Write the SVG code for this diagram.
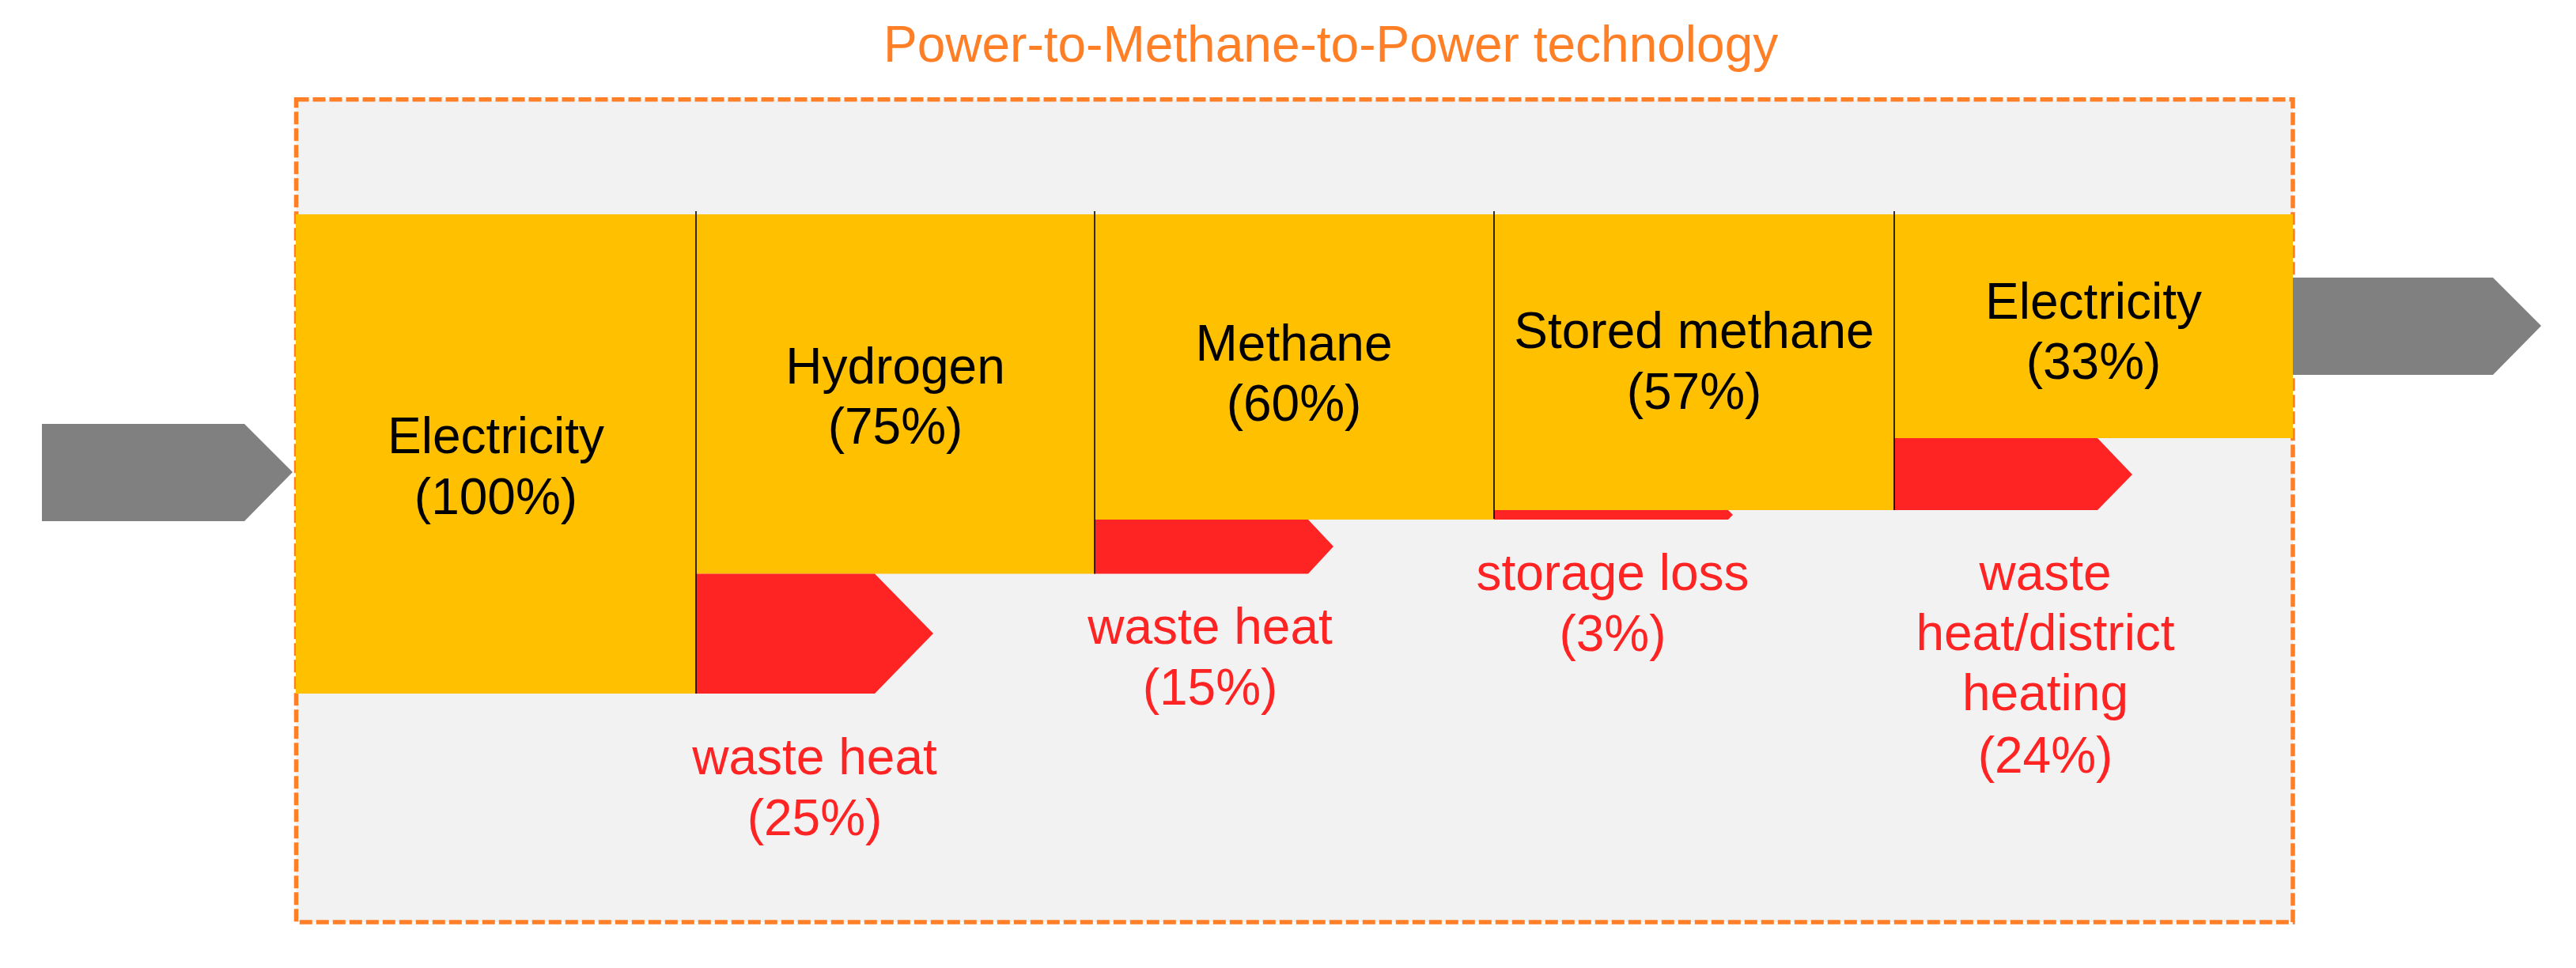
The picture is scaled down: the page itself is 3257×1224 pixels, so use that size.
<svg xmlns="http://www.w3.org/2000/svg" width="3257" height="1224" viewBox="0 0 3257 1224">
<style>
.t{font-family:"Liberation Sans",Arial,sans-serif;font-size:64px;text-anchor:middle}
.blk{fill:#000000}
.red{fill:#FF2424}
.stage{fill:#FFC000}
.loss{fill:#FF2424}
.io{fill:#808080}
.div{stroke:#000000;stroke-width:1.6;fill:none}
</style>
<rect width="3257" height="1224" fill="#FFFFFF"/>
<g id="frame">
<rect x="374.5" y="125.7" width="2524.5" height="1040.3" fill="#F2F2F2" stroke="#FF7F27" stroke-width="5.5" stroke-dasharray="16 5"/>
<text x="1117" y="78" style="font-family:'Liberation Sans',Arial,sans-serif;font-size:64px;fill:#FF7F27">Power-to-Methane-to-Power technology</text>
</g>
<g id="input">
<polygon class="io" points="53,536 309,536 370,597 309,659 53,659"/>
</g>
<g id="output">
<polygon class="io" points="2899,351 3152,351 3213,412 3152,474 2899,474"/>
</g>
<g id="electricity-in">
<rect class="stage" x="374" y="271" width="506" height="606"/>
<text class="t blk" x="627" y="573">Electricity</text>
<text class="t blk" x="627" y="650">(100%)</text>
</g>
<g id="hydrogen">
<rect class="stage" x="880" y="271" width="504" height="454.5"/>
<text class="t blk" x="1132" y="485">Hydrogen</text>
<text class="t blk" x="1132" y="561">(75%)</text>
</g>
<g id="methane">
<rect class="stage" x="1384" y="271" width="505" height="386"/>
<text class="t blk" x="1636" y="456">Methane</text>
<text class="t blk" x="1636" y="532">(60%)</text>
</g>
<g id="stored-methane">
<rect class="stage" x="1889" y="271" width="506" height="374"/>
<text class="t blk" x="2142" y="440">Stored methane</text>
<text class="t blk" x="2142" y="517">(57%)</text>
</g>
<g id="electricity-out">
<rect class="stage" x="2395" y="271" width="504" height="283"/>
<text class="t blk" x="2647" y="403">Electricity</text>
<text class="t blk" x="2647" y="479">(33%)</text>
</g>
<g id="loss-hydrogen">
<polygon class="loss" points="880,725.5 1106,725.5 1180,801 1106,877 880,877"/>
<text class="t red" x="1030" y="979">waste heat</text>
<text class="t red" x="1030" y="1056">(25%)</text>
</g>
<g id="loss-methane">
<polygon class="loss" points="1384,657 1654,657 1686,691 1654,725.5 1384,725.5"/>
<text class="t red" x="1530" y="814">waste heat</text>
<text class="t red" x="1530" y="891">(15%)</text>
</g>
<g id="loss-storage">
<polygon class="loss" points="1889,645 2185,645 2191,651 2185,657 1889,657"/>
<text class="t red" x="2039" y="746">storage loss</text>
<text class="t red" x="2039" y="823">(3%)</text>
</g>
<g id="loss-electricity">
<polygon class="loss" points="2395,554 2652,554 2696,600 2652,645 2395,645"/>
<text class="t red" x="2586" y="746">waste</text>
<text class="t red" x="2586" y="822">heat/district</text>
<text class="t red" x="2586" y="898">heating</text>
<text class="t red" x="2586" y="977">(24%)</text>
</g>
<g id="connectors">
<line class="div" x1="880" y1="267" x2="880" y2="877"/>
<line class="div" x1="1384" y1="267" x2="1384" y2="725.5"/>
<line class="div" x1="1889" y1="267" x2="1889" y2="656"/>
<line class="div" x1="2395" y1="267" x2="2395" y2="645"/>
</g>
</svg>
